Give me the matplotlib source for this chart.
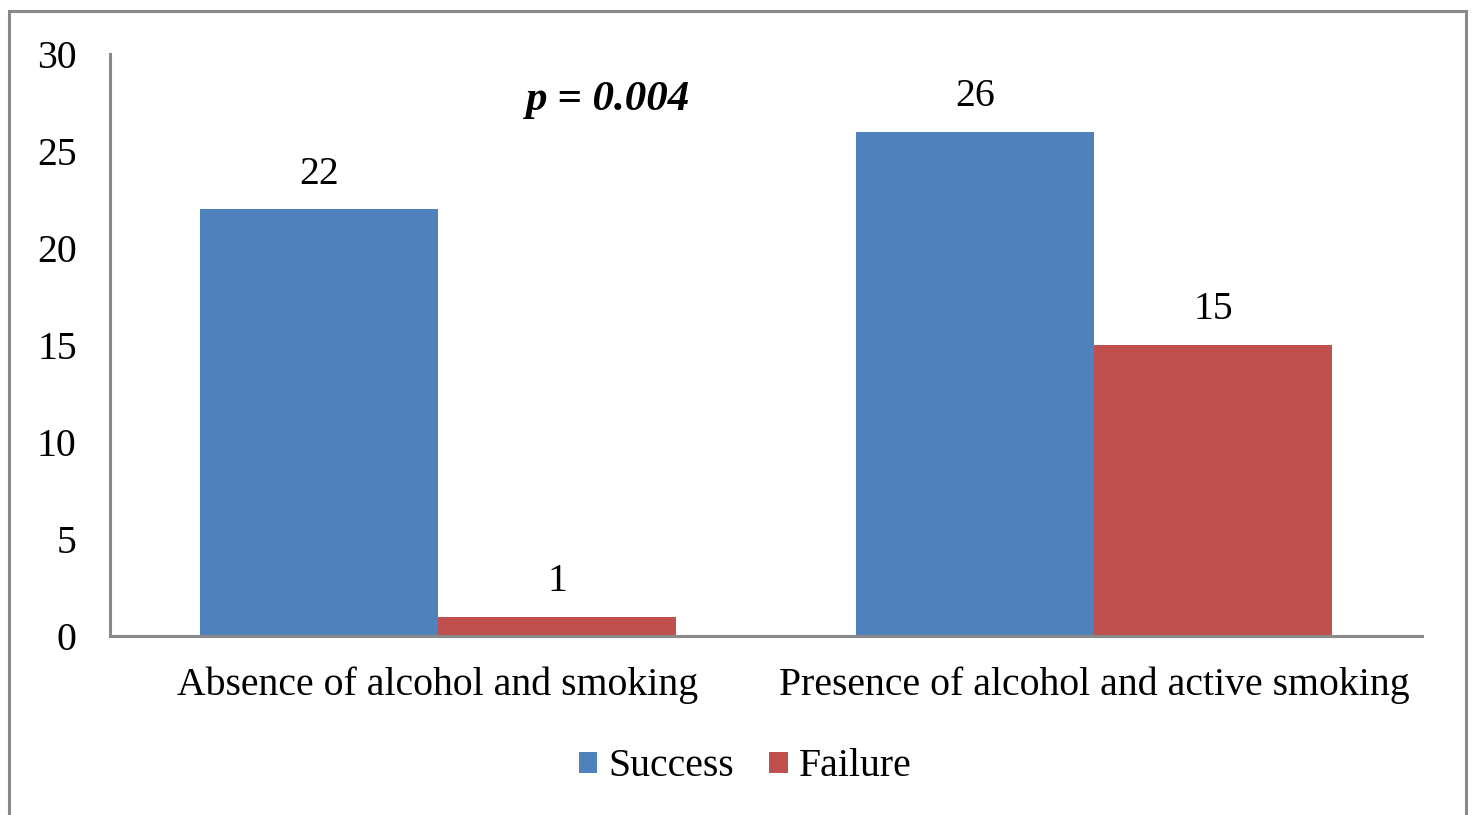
import matplotlib

matplotlib.use("Agg")
import matplotlib.pyplot as plt
import numpy as np
from matplotlib.patches import Rectangle

categories = ["Absence of alcohol and smoking", "Presence of alcohol and active smoking"]
series_names = ["Success", "Failure"]
success = [22, 26]
failure = [1, 15]
y_ticks = [0, 5, 10, 15, 20, 25, 30]
p_text = "p = 0.004"

BLUE = "#4F81BD"
RED = "#C0504D"
GREY = "#898989"
SERIF = ["Liberation Serif", "DejaVu Serif"]
FS = 28.6

plt.rcParams["font.family"] = SERIF

fig = plt.figure(figsize=(14.76, 8.15), dpi=100)
fig.patch.set_facecolor("white")
ax = fig.add_axes([110 / 1476, 1 - 636 / 815, (1422 - 110) / 1476, (636 - 54) / 815])

x = np.arange(len(categories))
w = 0.363
b1 = ax.bar(x - w / 2, success, w, color=BLUE, label=series_names[0])
b2 = ax.bar(x + w / 2, failure, w, color=RED, label=series_names[1])
for bars in (b1, b2):
    ax.bar_label(bars, padding=12, fontsize=FS, color="black")

ax.set_xlim(-0.5, 1.5)
ax.set_ylim(0, 30)
ax.set_yticks(y_ticks)
ax.set_xticks(x)
ax.set_xticklabels(categories)
ax.tick_params(axis="both", length=0, labelsize=FS, colors="black")
ax.tick_params(axis="y", pad=24)
ax.tick_params(axis="x", pad=22)
for side in ("top", "right"):
    ax.spines[side].set_visible(False)
for side in ("left", "bottom"):
    ax.spines[side].set_color(GREY)
    ax.spines[side].set_linewidth(2.2)

ax.text(607 / 1476, 1 - 100 / 815, p_text, transform=fig.transFigure,
        ha="center", va="center", fontsize=31, fontweight="bold", style="italic")

fig.legend(loc="center", bbox_to_anchor=(745 / 1476, 1 - 767 / 815), ncol=2,
           frameon=False, fontsize=FS, handlelength=0.46, handleheight=0.46,
           handletextpad=0.28, columnspacing=0.9)

# outer chart frame (bottom edge is cropped in the original)
fig.patches.append(Rectangle((9 / 1476, -0.05), (1466 - 9) / 1476, 0.05 + 1 - 11 / 815,
                             transform=fig.transFigure, fill=False,
                             edgecolor=GREY, linewidth=2.2))

fig.savefig("out.png", dpi=100, facecolor="white")
